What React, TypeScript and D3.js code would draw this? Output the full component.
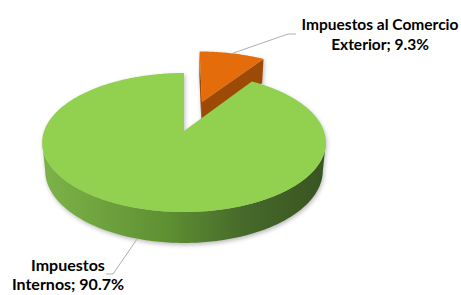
import React from 'react';
import * as d3 from 'd3';

// chart data
const categories = ['Impuestos al Comercio Exterior', 'Impuestos Internos'];
const shares = [9.3, 90.7];
const labelRows = [
  ['Impuestos al Comercio', 'Exterior; 9.3%'],
  ['Impuestos', 'Internos; 90.7%'],
];
const explode = [0.48, 0];

const topColors = ['#e46c0a', '#92d050'];
const sideColors = ['#9d4a06', 'url(#greenSide)'];

// 3d view (perspective) settings
const W = 461;
const H = 295;
const cx = 184;
const cy = 131;
const focal = 740;
const dist = 5.29;
const tilt = (28.9 * Math.PI) / 180;
const depth = 0.23;
const sT = Math.sin(tilt);
const cT = Math.cos(tilt);

const proj = (u: number, v: number, h: number): [number, number] => {
  const Y = v * sT - h * cT;
  const Z = -v * cT - h * sT;
  const k = focal / (dist + Z);
  return [cx + u * k, cy + Y * k];
};

const line = d3.line();

const arcPoints = (ou: number, ov: number, a0: number, a1: number, h: number) => {
  const n = Math.max(2, Math.ceil(((a1 - a0) * 180) / Math.PI));
  return d3.range(n + 1).map(i => {
    const a = a0 + ((a1 - a0) * i) / n;
    return proj(ou + Math.sin(a), ov - Math.cos(a), h);
  });
};

const silhouette = Math.acos(-cT / dist);

const App = () => {
  const pie = d3.pie<number>().sort(null).value(d => d)(shares);

  const slices = pie.map((p, i) => {
    const mid = (p.startAngle + p.endAngle) / 2;
    const ou = explode[i] * Math.sin(mid);
    const ov = -explode[i] * Math.cos(mid);
    const faces: { d: string; fill: string }[] = [];

    // radial faces
    const edge = (a: number, sign: number) => {
      const na = a + sign * Math.PI / 2;
      const nu = Math.sin(na);
      const nv = -Math.cos(na);
      const dot = nu * (0 - ou) + nv * (dist * cT - ov);
      if (dot <= 0.001) return;
      const pts = [
        proj(ou, ov, 0),
        proj(ou + Math.sin(a), ov - Math.cos(a), 0),
        proj(ou + Math.sin(a), ov - Math.cos(a), -depth),
        proj(ou, ov, -depth),
      ];
      faces.push({ d: line(pts) + 'Z', fill: sideColors[i] });
    };
    edge(p.startAngle, -1);
    edge(p.endAngle, 1);

    // outer curved side
    const s0 = Math.max(p.startAngle, silhouette);
    const s1 = Math.min(p.endAngle, 2 * Math.PI - silhouette);
    if (s1 > s0) {
      const topRim = arcPoints(ou, ov, s0, s1, 0);
      const botRim = arcPoints(ou, ov, s0, s1, -depth).reverse();
      faces.push({ d: line([...topRim, ...botRim]) + 'Z', fill: sideColors[i] });
    }

    // top face
    const top = [proj(ou, ov, 0), ...arcPoints(ou, ov, p.startAngle, p.endAngle, 0)];
    faces.push({ d: line(top) + 'Z', fill: topColors[i] });

    return { i, ov, mid, ou, faces, name: categories[i] };
  });

  const order = [...slices].sort((a, b) => a.ov - b.ov);

  // leader lines
  const s0 = slices[0];
  const topAnchor = proj(s0.ou + Math.sin(s0.mid), s0.ov - Math.cos(s0.mid), 0);
  const s1 = slices[1];
  const botAnchor = proj(s1.ou + Math.sin(s1.mid), s1.ov - Math.cos(s1.mid), -depth);

  const labelFont = { fontFamily: 'Lato, "Liberation Sans", sans-serif', fontWeight: 700 };

  return (
    <svg width={W} height={H} style={{ position: 'absolute', left: 0, top: 0, background: '#fff' }}>
      <defs>
        <linearGradient id="greenSide" gradientUnits="userSpaceOnUse" x1={43} y1={0} x2={323} y2={0}>
          <stop offset="0" stopColor="#7cb348" />
          <stop offset="0.45" stopColor="#5e8f32" />
          <stop offset="0.72" stopColor="#46692a" />
          <stop offset="1" stopColor="#3a5521" />
        </linearGradient>
        <filter id="shadow" x="-20%" y="-20%" width="140%" height="140%">
          <feGaussianBlur stdDeviation="2" />
        </filter>
      </defs>

      <g filter="url(#shadow)" transform="translate(1,2)" opacity={0.4}>
        {order.map(s => s.faces.map((f, j) => <path key={`${s.i}-${j}`} d={f.d} fill="#555" />))}
      </g>

      {order.map(s => (
        <g key={s.name}>
          {s.faces.map((f, j) => (
            <path key={j} d={f.d} fill={f.fill} />
          ))}
        </g>
      ))}

      <polyline
        points={[topAnchor, [288, 34], [296, 34]].map(p => p.join(',')).join(' ')}
        fill="none"
        stroke="#a6a6a6"
        strokeWidth={0.9}
      />
      <polyline
        points={[botAnchor, [113, 274], [106, 274]].map(p => p.join(',')).join(' ')}
        fill="none"
        stroke="#a6a6a6"
        strokeWidth={0.9}
      />

      <text textAnchor="middle" {...labelFont} fontSize={15.5} fill="#000">
        <tspan x={380} y={30}>{labelRows[0][0]}</tspan>
        <tspan x={380} y={50}>{labelRows[0][1]}</tspan>
      </text>
      <text textAnchor="middle" {...labelFont} fontSize={16} fill="#000">
        <tspan x={68} y={271}>{labelRows[1][0]}</tspan>
        <tspan x={68} y={290}>{labelRows[1][1]}</tspan>
      </text>
    </svg>
  );
};

export default App;
